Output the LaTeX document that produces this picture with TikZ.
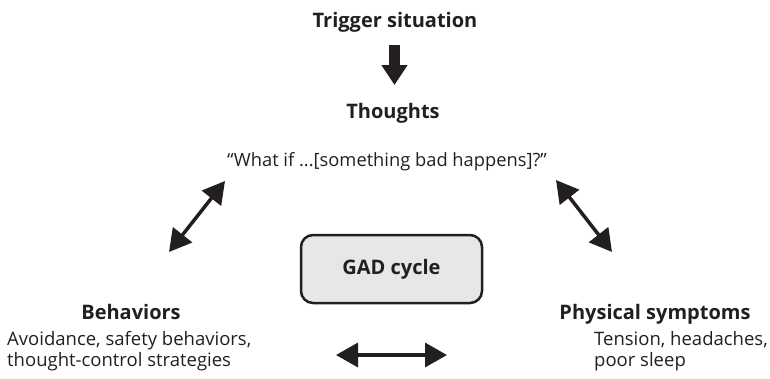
\documentclass[tikz,border=0pt]{standalone}
\usepackage{fontspec}
\setmainfont{Open Sans}
\usetikzlibrary{arrows.meta}
\definecolor{ink}{HTML}{231F20}
\definecolor{boxgray}{HTML}{E6E7E8}
\begin{document}
\begin{tikzpicture}[x=1pt,y=-1pt,
  title/.style={font=\fontsize{20}{24}\selectfont\bfseries, text=ink, anchor=base, inner sep=0pt},
  body/.style={font=\fontsize{18.3}{22}\selectfont, text=ink, anchor=base, inner sep=0pt},
  list/.style={font=\fontsize{18.5}{21}\selectfont, text=ink, anchor=base west, inner sep=0pt, align=left},
  twoway/.style={draw=ink, line width=3.5pt, {Triangle[width=24pt,length=22pt]}-{Triangle[width=24pt,length=22pt]}},
  cyclebox/.style={draw=ink, fill=boxgray, line width=2.5pt, rounded corners=12pt,
    minimum width=181pt, minimum height=68pt, inner sep=0pt,
    font=\fontsize{20}{24}\selectfont\bfseries, text=ink}]
  \useasboundingbox (0,0) rectangle (770,378);

  % labels (multi-line nodes are placed by the baseline of their last line)
  \node[title] (trigger) at (395,27) {Trigger situation};
  \node[title] (thoughts) at (393,118) {Thoughts};
  \node[body] (whatif) at (387,166) {“What if ...[something bad happens]?”};
  \node[title] (behav) at (131,319) {Behaviors};
  \node[list] (behavtxt) at (7,366) {Avoidance, safety behaviors,\\thought-control strategies};
  \node[title] (phys) at (655,319) {Physical symptoms};
  \node[list] (phystxt) at (594,366) {Tension, headaches,\\poor sleep};

  % central box
  \node[cyclebox] (gad) at (391.5,269) {GAD cycle};

  % arrow ends
  \coordinate (downA) at (394.5,45);
  \coordinate (downB) at (394.5,85);
  \coordinate (leftA) at (169,252);
  \coordinate (leftB) at (225,181);
  \coordinate (rightA) at (556,180);
  \coordinate (rightB) at (612,252);
  \coordinate (botA) at (336,355);
  \coordinate (botB) at (447,355);

  % trigger leads to thoughts
  \draw[draw=ink, line width=11pt, -{Triangle[width=25pt,length=20pt]}] (downA) -- (downB);

  % two-way links of the cycle
  \draw[twoway] (leftA) -- (leftB);
  \draw[twoway] (rightA) -- (rightB);
  \draw[twoway] (botA) -- (botB);
\end{tikzpicture}
\end{document}
